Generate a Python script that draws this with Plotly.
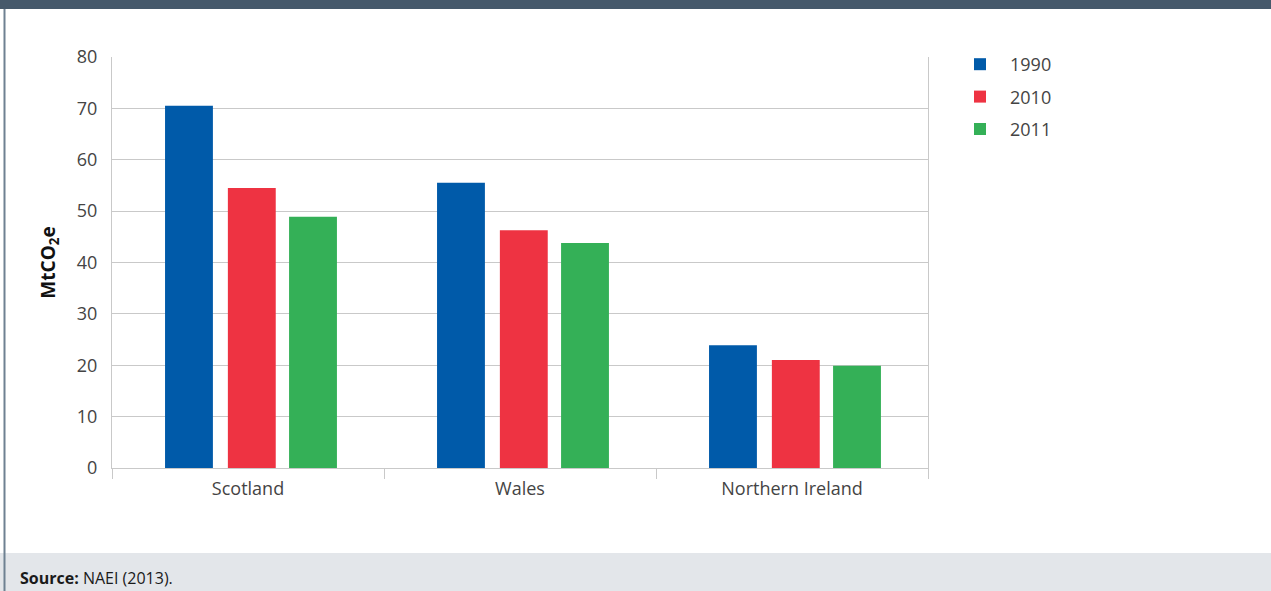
import plotly.graph_objects as go

# Greenhouse gas emissions by devolved administration (MtCO2e)
regions = ["Scotland", "Wales", "Northern Ireland"]
years = ["1990", "2010", "2011"]
emissions_1990 = [70.5, 55.5, 23.9]
emissions_2010 = [54.5, 46.3, 21.0]
emissions_2011 = [48.9, 43.8, 19.9]
y_ticks = [0, 10, 20, 30, 40, 50, 60, 70, 80]

series = [emissions_1990, emissions_2010, emissions_2011]
colors = ["#005aa9", "#ee3342", "#34b057"]
# bar placement within each category slot (category units)
bar_width = 0.176
bar_offsets = [-0.305, -0.074, 0.151]

W, H = 1271, 591
M_L, M_R, M_T, M_B = 112, 343, 57, 123
PW, PH = W - M_L - M_R, H - M_T - M_B


def px_x(p):
    return (p - M_L) / PW


def px_y(p):
    return (H - M_B - p) / PH


fig = go.Figure()
for yr, vals, col, off in zip(years, series, colors, bar_offsets):
    fig.add_trace(go.Bar(
        x=regions, y=vals, name=yr, marker_color=col,
        marker_line_width=0, legendgroup=yr,
        width=bar_width, offset=off,
    ))

font_family = "Open Sans, Noto Sans, sans-serif"
grid_col = "#c9c9c9"

fig.update_layout(
    width=W, height=H,
    margin=dict(l=M_L, r=M_R, t=M_T, b=M_B),
    paper_bgcolor="white", plot_bgcolor="white",
    barmode="overlay",
    font=dict(family=font_family, size=18, color="#444444"),
    showlegend=True,
    legend=dict(
        x=px_x(950), y=px_y(46), xanchor="left", yanchor="top",
        itemwidth=50, tracegroupgap=6, traceorder="grouped",
        font=dict(size=18, color="#444444"), bgcolor="rgba(0,0,0,0)",
    ),
    xaxis=dict(
        showline=True, linecolor=grid_col, linewidth=1,
        ticks="outside", tickson="boundaries", ticklen=10,
        tickcolor=grid_col, tickwidth=1, showgrid=False,
        ticklabelstandoff=4,
    ),
    yaxis=dict(
        range=[0, 80], tickvals=y_ticks, showgrid=True,
        gridcolor=grid_col, gridwidth=1, zeroline=False,
        showline=True, linecolor=grid_col, linewidth=1,
        mirror=True, ticks="", ticklabelstandoff=10,
        title=dict(text="<b>MtCO<sub>2</sub>e</b>", standoff=16,
                   font=dict(size=19, color="#111111")),
    ),
    shapes=[
        # header strip
        dict(type="rect", xref="paper", yref="paper",
             x0=px_x(0), x1=px_x(W), y0=px_y(0), y1=px_y(9),
             fillcolor="#46596b", line_width=0, layer="below"),
        # footer band
        dict(type="rect", xref="paper", yref="paper",
             x0=px_x(0), x1=px_x(W), y0=px_y(553), y1=px_y(H),
             fillcolor="#e3e6ea", line_width=0, layer="below"),
        # left frame rule
        dict(type="line", xref="paper", yref="paper",
             x0=px_x(4.5), x1=px_x(4.5), y0=px_y(9), y1=px_y(H),
             line=dict(color="#6f8192", width=2)),
    ],
    annotations=[
        dict(text="<b>Source:</b> NAEI (2013).", xref="paper", yref="paper",
             x=px_x(18), y=px_y(578), xanchor="left", yanchor="middle",
             showarrow=False, font=dict(size=16, color="#1a1a1a")),
    ],
)

fig.write_html("out.html")
